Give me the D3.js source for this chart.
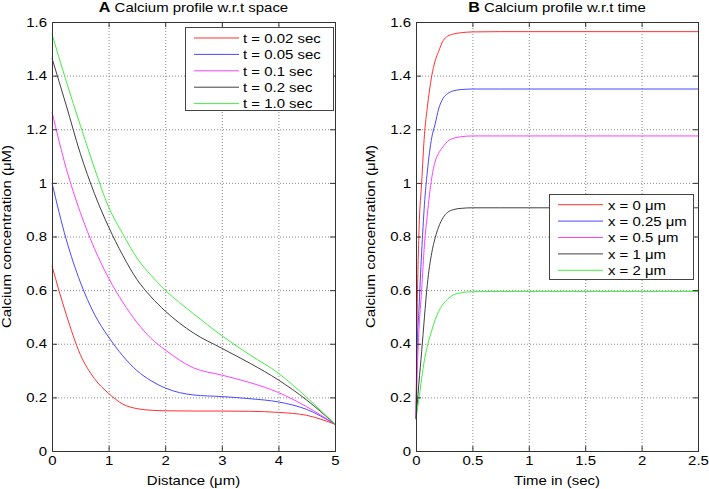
<!DOCTYPE html>
<html><head><meta charset="utf-8">
<script src="https://cdn.jsdelivr.net/npm/d3@7"></script>
<style>
body{margin:0;background:#fff;}
svg{display:block;font-family:"Liberation Sans",Arial,Helvetica,sans-serif;}
</style></head>
<body><svg id="c" width="709" height="489"></svg>
<script>
// ---------- data ----------
const distances = [0, 0.25, 0.5, 0.75, 1, 1.25, 1.5, 1.75, 2, 2.5, 3, 3.5, 4, 4.5, 5];
const space_t002 = [0.69, 0.51, 0.36, 0.27, 0.215, 0.175, 0.158, 0.152, 0.15, 0.149, 0.149, 0.148, 0.144, 0.133, 0.1];
const space_t005 = [1.0, 0.79, 0.63, 0.51, 0.425, 0.355, 0.30, 0.262, 0.235, 0.209, 0.203, 0.195, 0.183, 0.155, 0.1];
const space_t01  = [1.265, 1.055, 0.89, 0.755, 0.645, 0.555, 0.48, 0.42, 0.377, 0.31, 0.283, 0.255, 0.218, 0.165, 0.1];
const space_t02  = [1.465, 1.29, 1.11, 0.96, 0.836, 0.73, 0.64, 0.575, 0.522, 0.44, 0.383, 0.327, 0.265, 0.19, 0.1];
const space_t10  = [1.555, 1.38, 1.215, 1.055, 0.91, 0.81, 0.72, 0.655, 0.60, 0.512, 0.43, 0.358, 0.29, 0.2, 0.1];
const spaceLabels = ["t = 0.02 sec", "t = 0.05 sec", "t = 0.1 sec", "t = 0.2 sec", "t = 1.0 sec"];

const times = [0, 0.01, 0.025, 0.05, 0.075, 0.1, 0.14, 0.17, 0.2, 0.24, 0.28, 0.33, 0.4, 0.5, 0.75, 1, 1.5, 2, 2.5];
const time_x0   = [0.12, 0.5, 0.8, 1.0, 1.18, 1.28, 1.40, 1.455, 1.49, 1.53, 1.547, 1.555, 1.56, 1.563, 1.564, 1.564, 1.564, 1.564, 1.564];
const time_x025 = [0.12, 0.38, 0.52, 0.74, 0.92, 1.04, 1.17, 1.22, 1.275, 1.315, 1.333, 1.343, 1.348, 1.35, 1.35, 1.35, 1.35, 1.35, 1.35];
const time_x05  = [0.12, 0.28, 0.44, 0.6, 0.77, 0.88, 1.02, 1.08, 1.11, 1.135, 1.155, 1.166, 1.172, 1.175, 1.175, 1.175, 1.175, 1.175, 1.175];
const time_x1   = [0.12, 0.17, 0.25, 0.37, 0.5, 0.62, 0.74, 0.795, 0.835, 0.87, 0.89, 0.9, 0.905, 0.907, 0.907, 0.907, 0.907, 0.907, 0.907];
const time_x2   = [0.115, 0.15, 0.19, 0.27, 0.34, 0.39, 0.45, 0.49, 0.52, 0.548, 0.566, 0.582, 0.59, 0.594, 0.595, 0.595, 0.595, 0.595, 0.595];
const timeLabels = ["x = 0 \u03bcm", "x = 0.25 \u03bcm", "x = 0.5 \u03bcm", "x = 1 \u03bcm", "x = 2 \u03bcm"];

const yTicks = [0, 0.2, 0.4, 0.6, 0.8, 1, 1.2, 1.4, 1.6];
const xTicksA = [0, 1, 2, 3, 4, 5];
const xTicksB = [0, 0.5, 1, 1.5, 2, 2.5];
const colors = ["#ff3030", "#4848ff", "#ff40ff", "#404040", "#40f040"];

// ---------- drawing ----------
const svg = d3.select("#c");
const SX = 1.15, FS = 13;
const yTop = 22, yBottom = 451;

function stretchText(g, x, y, anchor, rot) {
  return g.append("text")
    .attr("transform", `translate(${x},${y})` + (rot ? ` rotate(${rot})` : "") + ` scale(${SX},1)`)
    .attr("text-anchor", anchor || "start")
    .attr("font-size", FS).attr("fill", "#000");
}

function panel(opt) {
  const x = d3.scaleLinear().domain(opt.xdom).range([opt.x0, opt.x1]);
  const y = d3.scaleLinear().domain([0, 1.6]).range([yBottom, yTop]);
  const g = svg.append("g");

  // grid
  g.append("g").selectAll("line").data(opt.xticks.slice(1, -1)).join("line")
    .attr("x1", d => x(d) + 0.5).attr("x2", d => x(d) + 0.5).attr("y1", yTop).attr("y2", yBottom)
    .attr("stroke", "#8a8a8a").attr("stroke-width", 1).attr("stroke-dasharray", "1,2");
  g.append("g").selectAll("line").data(yTicks.slice(1, -1)).join("line")
    .attr("y1", d => y(d) + 0.5).attr("y2", d => y(d) + 0.5).attr("x1", opt.x0).attr("x2", opt.x1)
    .attr("stroke", "#8a8a8a").attr("stroke-width", 1).attr("stroke-dasharray", "1,2");

  // lines
  const line = d3.line().x(d => x(d[0])).y(d => y(d[1])).curve(d3.curveMonotoneX);
  opt.series.forEach((s, i) => {
    g.append("path").datum(opt.xs.map((v, k) => [v, s[k]]))
      .attr("d", line).attr("fill", "none").attr("stroke", colors[i]).attr("stroke-width", 1);
  });

  // axes
  const fmt = d => String(d);
  const ax = g.append("g").attr("transform", `translate(0,${yBottom})`)
    .call(d3.axisBottom(x).tickValues(opt.xticks).tickFormat(fmt).tickSize(-5).tickPadding(5));
  const axT = g.append("g").attr("transform", `translate(0,${yTop})`)
    .call(d3.axisTop(x).tickValues(opt.xticks).tickFormat("").tickSize(-5));
  const ay = g.append("g").attr("transform", `translate(${opt.x0},0)`)
    .call(d3.axisLeft(y).tickValues(yTicks).tickFormat(fmt).tickSize(-5).tickPadding(5));
  const ayR = g.append("g").attr("transform", `translate(${opt.x1},0)`)
    .call(d3.axisRight(y).tickValues(yTicks).tickFormat("").tickSize(-5));
  [ax, axT, ay, ayR].forEach(a => {
    a.select(".domain").remove();
    a.selectAll(".tick line").attr("stroke", "#333");
    a.selectAll("text").attr("font-size", FS).attr("fill", "#000")
      .attr("font-family", '"Liberation Sans",Arial,sans-serif');
  });
  ay.selectAll(".tick text").attr("x", -5 / SX).attr("transform", `scale(${SX},1)`);
  ax.selectAll(".tick text").attr("transform", `scale(${SX},1)`);

  // frame
  g.append("rect").attr("x", opt.x0 + 0.5).attr("y", yTop + 0.5).attr("width", opt.x1 - opt.x0).attr("height", yBottom - yTop)
    .attr("fill", "none").attr("stroke", "#333").attr("stroke-width", 1);

  // title
  const cx = (opt.x0 + opt.x1) / 2;
  const tt = stretchText(g, cx, 12, "middle");
  tt.append("tspan").attr("font-weight", "bold").attr("font-size", 14).text(opt.letter);
  tt.append("tspan").text(" " + opt.title);

  // axis labels
  stretchText(g, cx, 485, "middle").text(opt.xlabel);
  stretchText(g, opt.x0 - 41, (yTop + yBottom) / 2, "middle", -90).text("Calcium concentration (\u03bcM)");

  // legend
  const L = opt.legend;
  g.append("rect").attr("x", L.x + 0.5).attr("y", L.y + 0.5).attr("width", L.w).attr("height", L.h)
    .attr("fill", "#fff").attr("stroke", "#444").attr("stroke-width", 1);
  opt.labels.forEach((lab, i) => {
    const yy = L.row0 + i * 16.4;
    g.append("line").attr("x1", L.lx0).attr("x2", L.lx1).attr("y1", yy).attr("y2", yy)
      .attr("stroke", colors[i]).attr("stroke-width", 1);
    stretchText(g, L.tx, yy + 4.8, "start").text(lab);
  });
}

panel({
  x0: 52, x1: 335, xdom: [0, 5], xticks: xTicksA, xs: distances,
  series: [space_t002, space_t005, space_t01, space_t02, space_t10],
  letter: "A", title: "Calcium profile w.r.t space", xlabel: "Distance (\u03bcm)",
  labels: spaceLabels,
  legend: {x: 185, y: 27, w: 148, h: 83, row0: 38, lx0: 194, lx1: 239, tx: 243}
});
panel({
  x0: 416, x1: 698, xdom: [0, 2.5], xticks: xTicksB, xs: times,
  series: [time_x0, time_x025, time_x05, time_x1, time_x2],
  letter: "B", title: "Calcium profile w.r.t time", xlabel: "Time in (sec)",
  labels: timeLabels,
  legend: {x: 549, y: 194, w: 144, h: 85, row0: 204.7, lx0: 558, lx1: 603, tx: 608}
});
</script></body></html>
